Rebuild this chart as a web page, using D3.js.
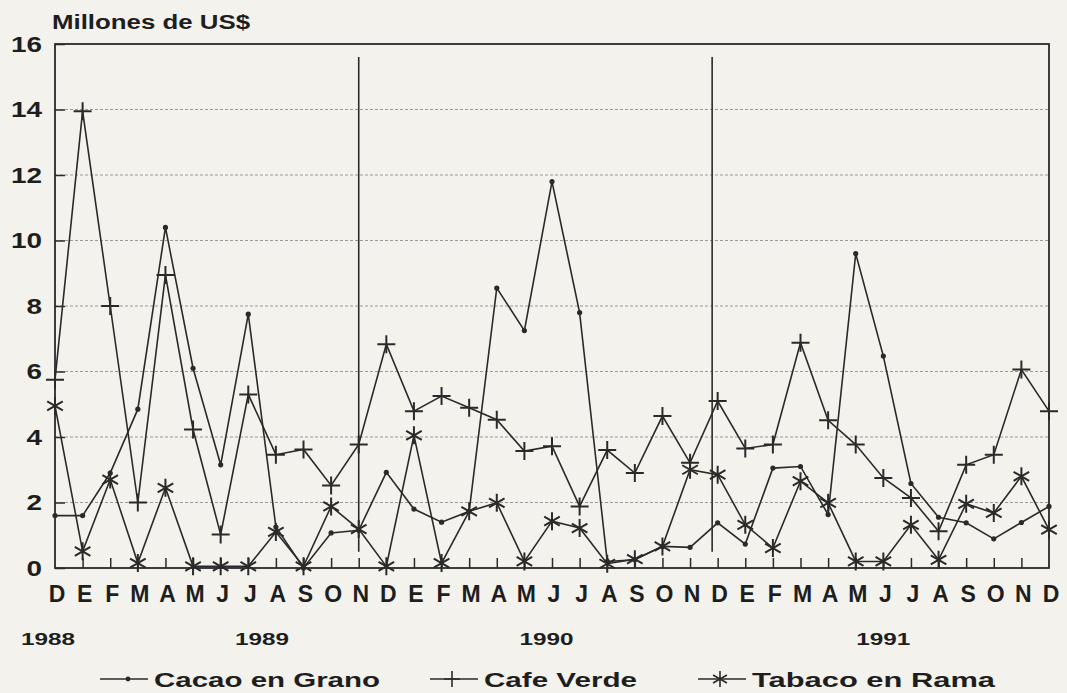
<!DOCTYPE html>
<html><head><meta charset="utf-8">
<script src="https://cdn.jsdelivr.net/npm/d3@7"></script>
<style>
body{margin:0;background:#f3f2ed;}
svg{display:block;}
text{font-family:"Liberation Sans",Arial,sans-serif;fill:#1e1e1e;}
</style></head><body>
<svg id="chart" width="1067" height="693"></svg>
<script>
// ---- data ----
const months = ["D","E","F","M","A","M","J","J","A","S","O","N",
                "D","E","F","M","A","M","J","J","A","S","O","N",
                "D","E","F","M","A","M","J","J","A","S","O","N","D"];
const cacao  = [1.6,1.6,2.9,4.85,10.4,6.1,3.15,7.75,1.25,0.0,1.07,1.15,
                2.92,1.8,1.4,1.73,8.55,7.25,11.8,7.8,0.2,0.25,0.66,0.63,
                1.38,0.73,3.05,3.1,1.63,9.6,6.47,2.58,1.55,1.38,0.89,1.39,1.88];
const cafe   = [5.75,13.95,8.0,2.0,8.95,4.23,1.02,5.3,3.46,3.62,2.52,3.77,
                6.83,4.79,5.25,4.89,4.53,3.57,3.72,1.88,3.6,2.9,4.64,3.21,
                5.1,3.65,3.77,6.88,4.51,3.77,2.75,2.14,1.12,3.15,3.46,6.06,4.79];
const tabaco = [4.95,0.51,2.7,0.15,2.45,0.05,0.05,0.05,1.1,0.05,1.88,1.19,
                0.05,4.05,0.15,1.73,1.99,0.2,1.43,1.22,0.13,0.27,0.66,3.0,
                2.85,1.32,0.61,2.65,1.99,0.2,0.2,1.32,0.25,1.96,1.68,2.8,1.17];
const yTicks = [0,2,4,6,8,10,12,14,16];
const gridValues = [2,4,6,8,10,12,14];
const years = ["1988","1989","1990","1991"];
const yearPos = [-0.25, 7.5, 17.8, 30];     // in month-index units
const dividers = [11, 23.8];                 // year separators, month-index units
const seriesNames = ["Cacao en Grano","Cafe Verde","Tabaco en Rama"];
const seriesMarkers = ["dot","plus","star"];

// ---- layout ----
const svg = d3.select("#chart");
const x = d3.scaleLinear().domain([0, months.length - 1]).range([55, 1049]);
const y = d3.scaleLinear().domain([0, 16]).range([568, 44]);
const ink = "#2a2a2a";

// gridlines
svg.append("g").selectAll("line").data(gridValues).join("line")
  .attr("x1", x(0)).attr("x2", x(36))
  .attr("y1", d => y(d)).attr("y2", d => y(d))
  .attr("stroke", "#999").attr("stroke-width", 1)
  .attr("stroke-dasharray", "3,2");

// y axis (ticks inward)
const yAxis = d3.axisRight(y).tickValues(yTicks).tickSize(10).tickFormat("");
const gy = svg.append("g").attr("transform", `translate(${x(0)},0)`).call(yAxis);
gy.selectAll("path").remove();
gy.selectAll("line").attr("stroke", ink).attr("stroke-width", 1.5);

svg.append("g").selectAll("text").data(yTicks).join("text")
  .attr("x", 42).attr("y", d => y(d)).attr("dy", "0.36em")
  .attr("text-anchor", "end").attr("font-size", 22).attr("font-weight", "bold")
  .text(d => d)
  .each(function(d){ d3.select(this).attr("textLength", String(d).length * 15.5).attr("lengthAdjust","spacingAndGlyphs"); });

// x axis ticks (inward)
const xAxis = d3.axisTop(x).tickValues(d3.range(1, 36)).tickSize(10).tickFormat("");
const gx = svg.append("g").attr("transform", `translate(0,${y(0)})`).call(xAxis);
gx.selectAll("path").remove();
gx.selectAll("line").attr("stroke", ink).attr("stroke-width", 1.5);

// frame
svg.append("rect")
  .attr("x", x(0)).attr("y", y(16))
  .attr("width", x(36) - x(0)).attr("height", y(0) - y(16))
  .attr("fill", "none").attr("stroke", ink).attr("stroke-width", 1.8);

// year dividers
svg.append("g").selectAll("line").data(dividers).join("line")
  .attr("x1", d => x(d)).attr("x2", d => x(d))
  .attr("y1", y(15.6)).attr("y2", y(0.5))
  .attr("stroke", ink).attr("stroke-width", 1.6);

// month labels
svg.append("g").selectAll("text").data(months).join("text")
  .attr("x", (d, i) => x(i) + 2).attr("y", 602)
  .attr("text-anchor", "middle").attr("font-size", 23).attr("font-weight", "bold")
  .text(d => d);

// year labels
svg.append("g").selectAll("text").data(years).join("text")
  .attr("x", (d, i) => x(yearPos[i])).attr("y", 645)
  .attr("text-anchor", "middle").attr("font-size", 17).attr("font-weight", "bold")
  .attr("textLength", 54).attr("lengthAdjust","spacingAndGlyphs")
  .text(d => d);

// title
svg.append("text").attr("x", 52).attr("y", 29)
  .attr("font-size", 20).attr("font-weight", "bold")
  .attr("textLength", 198).attr("lengthAdjust","spacingAndGlyphs")
  .text("Millones de US$");

// markers
function markerPath(type, r){
  if (type === "plus") return `M${-r},0H${r}M0,${-r}V${r}`;
  if (type === "star") {
    let p = "";
    [90, 30, 150].forEach(a => {
      const c = Math.cos(a * Math.PI / 180) * r, s = Math.sin(a * Math.PI / 180) * r;
      p += `M${-c},${-s}L${c},${s}`;
    });
    return p;
  }
  return null;
}

const allSeries = [cacao, cafe, tabaco];
const line = d3.line().x((d, i) => x(i)).y(d => y(d));

allSeries.forEach((vals, si) => {
  const g = svg.append("g");
  g.append("path").datum(vals).attr("d", line)
    .attr("fill", "none").attr("stroke", ink).attr("stroke-width", 1.6)
    .attr("stroke-linejoin", "miter");
  const type = seriesMarkers[si];
  if (type === "dot") {
    g.selectAll("circle").data(vals).join("circle")
      .attr("cx", (d, i) => x(i)).attr("cy", d => y(d)).attr("r", 2.6).attr("fill", ink);
  } else {
    g.selectAll("path.m").data(vals).join("path").attr("class", "m")
      .attr("transform", (d, i) => `translate(${x(i)},${y(d)})`)
      .attr("d", markerPath(type, 9))
      .attr("stroke", ink).attr("stroke-width", 2).attr("fill", "none");
  }
});

// legend
const legendX = [100, 430, 698];
const legendTextW = [226, 153, 243];
const legendY = 679;
seriesNames.forEach((name, i) => {
  const g = svg.append("g").attr("transform", `translate(${legendX[i]},${legendY})`);
  g.append("line").attr("x1", 0).attr("x2", 48).attr("y1", 0).attr("y2", 0)
    .attr("stroke", ink).attr("stroke-width", 1.3);
  const mx = 28;
  if (seriesMarkers[i] === "dot") {
    g.append("circle").attr("cx", mx).attr("cy", 0).attr("r", 2.4).attr("fill", ink);
  } else {
    g.append("path").attr("transform", `translate(${mx - 6},0)`)
      .attr("d", markerPath(seriesMarkers[i], 8))
      .attr("stroke", ink).attr("stroke-width", 1.6).attr("fill", "none");
  }
  g.append("text").attr("x", 54).attr("y", 8)
    .attr("font-size", 21).attr("font-weight", "bold")
    .attr("textLength", legendTextW[i]).attr("lengthAdjust","spacingAndGlyphs")
    .text(name);
});
</script>
</body></html>
